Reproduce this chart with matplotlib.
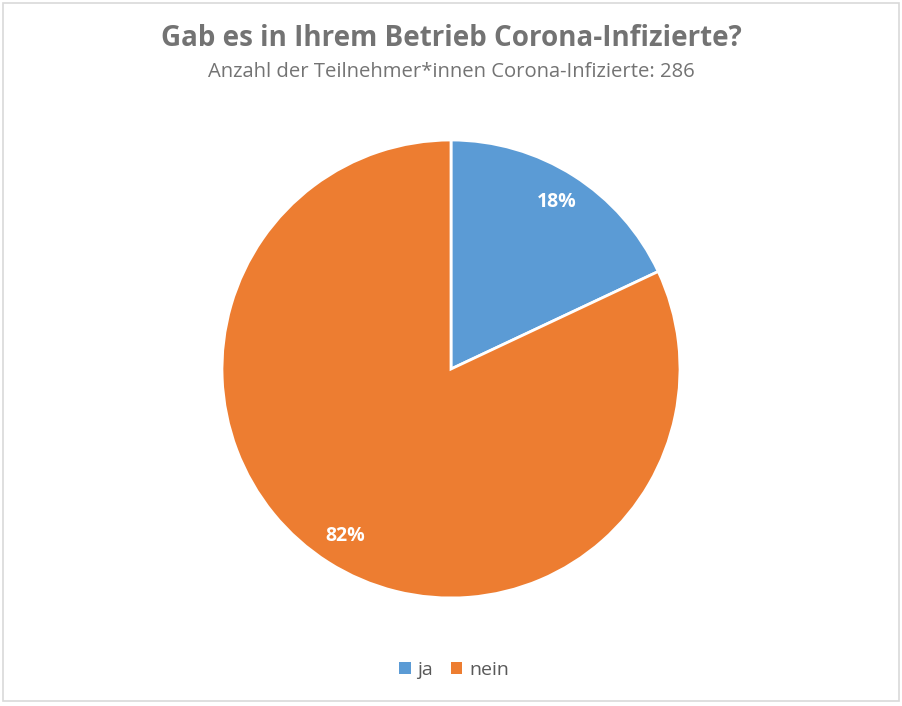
import matplotlib
matplotlib.use("Agg")
import matplotlib.pyplot as plt
from matplotlib.patches import Rectangle, Patch

categories = ["ja", "nein"]
values = [18, 82]
colors = ["#5B9BD5", "#ED7D31"]
title = "Gab es in Ihrem Betrieb Corona-Infizierte?"
subtitle = "Anzahl der Teilnehmer*innen Corona-Infizierte: 286"

plt.rcParams['font.family'] = ['Open Sans', 'DejaVu Sans']

W, H = 903, 706
fig = plt.figure(figsize=(W / 100, H / 100), dpi=100)
fig.patch.set_facecolor("white")

# chart border
fig.add_artist(Rectangle((3 / W, 5 / H), 896 / W, 698 / H, transform=fig.transFigure,
                         fill=False, edgecolor="#D9D9D9", linewidth=1.2))

cx, cy, r = 451, 369, 229
ax = fig.add_axes([(cx - r) / W, (H - cy - r) / H, 2 * r / W, 2 * r / H])
wedges, texts = ax.pie(values, colors=colors, startangle=90, counterclock=False,
                       labels=[f"{v}%" for v in values], labeldistance=0.865,
                       wedgeprops=dict(edgecolor="white", linewidth=2),
                       textprops=dict(color="white", fontsize=14, fontweight="bold"))
for t in texts:
    t.set_ha("center")
    t.set_va("center")
ax.set_xlim(-1, 1)
ax.set_ylim(-1, 1)
ax.set_aspect("equal")
ax.axis("off")

fig.text(0.5, 1 - 38 / H, title, ha="center", va="center", fontsize=20,
         fontweight="bold", color="#737373")
fig.text(0.5, 1 - 72 / H, subtitle, ha="center", va="center", fontsize=14.6,
         color="#737373")

handles = [Patch(facecolor=c, edgecolor="none") for c in colors]
fig.legend(handles, categories, loc="center", bbox_to_anchor=(454 / W, 1 - 670 / H),
           ncol=2, frameon=False, fontsize=14, handlelength=0.6, handleheight=0.6,
           handletextpad=0.35, columnspacing=0.9, labelcolor="#595959")

fig.savefig("out.png", dpi=100, facecolor="white")
